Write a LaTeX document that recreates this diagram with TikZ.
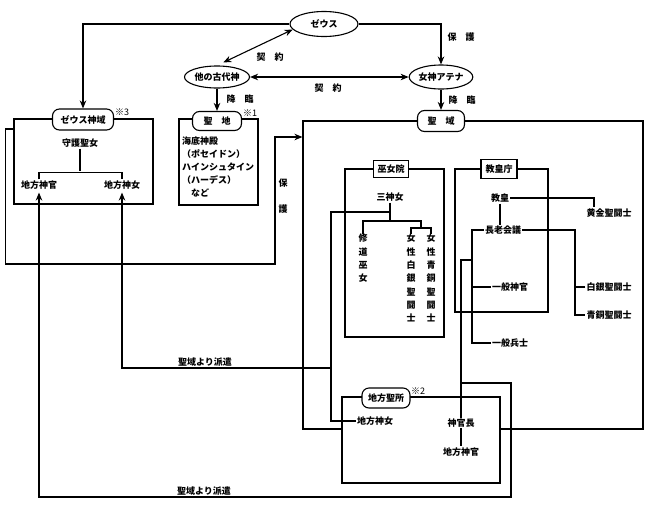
\documentclass[tikz,border=0pt]{standalone}
\usepackage{fontspec}
\setmainfont{Noto Sans CJK JP}
\usetikzlibrary{shapes.geometric,arrows.meta}
\tikzset{
  every node/.style={font=\bfseries\fontsize{9}{11}\selectfont, inner sep=1pt},
  ln/.style={line width=1.1pt},
  arr/.style={ln, -{Stealth[length=8pt,width=6.5pt,inset=2.5pt]}},
  dbl/.style={ln, {Stealth[length=8pt,width=6.5pt,inset=2.5pt]}-{Stealth[length=8pt,width=6.5pt,inset=2.5pt]}},
  god/.style={draw, ellipse, ln, inner sep=0pt, fill=white},
  area/.style={draw, ln, rectangle, rounded corners=7pt, inner sep=0pt, fill=white},
  tag/.style={draw, ln, rectangle, inner sep=0pt, fill=white},
  box/.style={draw, ln, rectangle, inner sep=0pt},
  vtxt/.style={anchor=north, align=center, inner sep=0pt, font=\bfseries\fontsize{9}{13.3}\selectfont},
  note/.style={font=\fontsize{9}{10}\selectfont, inner sep=0pt},
}

\begin{document}
\begin{tikzpicture}[x=1pt, y=-1pt]
            \useasboundingbox (0,0) rectangle (650,509);

            \node[box, minimum width=340pt, minimum height=308pt] (sbox) at (473,275) {};
            \node[box, minimum width=139pt, minimum height=85pt] (zbox) at (83.5,161.5) {};
            \node[box, minimum width=79pt, minimum height=86pt] (hbox) at (218.5,162) {};
            \node[box, minimum width=99pt, minimum height=168pt] (mbox) at (394.5,253) {};
            \node[box, minimum width=93pt, minimum height=143pt] (kbox) at (501.5,240.5) {};
            \node[box, fill=white, minimum width=158pt, minimum height=86pt] (lbox) at (421,440) {};

            \node[god, minimum width=68pt, minimum height=25pt] (zeus) at (324,24) {ゼウス};
            \node[god, minimum width=65pt, minimum height=22pt] (other) at (217,77) {他の古代神};
            \node[god, minimum width=60pt, minimum height=24pt] (athena) at (441,77) {女神アテナ};

            \node[area, minimum width=61pt, minimum height=21pt] (zlab) at (83,119.5) {ゼウス神域};
            \node[area, minimum width=49pt, minimum height=19pt] (hlab) at (217,121) {聖\quad 地};
            \node[area, minimum width=47pt, minimum height=21pt] (slab) at (441,121) {聖\quad 域};
            \node[area, minimum width=48pt, minimum height=20pt] (llab) at (386,398) {地方聖所};
            \node[tag, minimum width=35pt, minimum height=17pt] (mlab) at (391,169) {巫女院};
            \node[tag, minimum width=36pt, minimum height=19pt] (klab) at (499,169) {教皇庁};

            \node[note] (n3) at (122,112) {※3};
            \node[note] (n1) at (250,113) {※1};
            \node[note] (n2) at (418,391) {※2};

            \node (shugo) at (80,143) {守護聖女};
            \node (zkan) at (39,185) {地方神官};
            \node (zjo) at (122,185) {地方神女};
            \node[anchor=north west, align=left, inner sep=0pt, font=\bfseries\fontsize{9}{12.8}\selectfont] (hlist) at (182,137) {海底神殿\\（ポセイドン）\\ハインシュタイン\\（ハーデス）\\\hspace{1em}など};

            \node (sanjo) at (390,197) {三神女};
            \node[vtxt] (shudo) at (363,234) {修\\道\\巫\\女};
            \node[vtxt] (jhaku) at (411,234) {女\\性\\白\\銀\\聖\\闘\\士};
            \node[vtxt] (jsei) at (431,234) {女\\性\\青\\銅\\聖\\闘\\士};

            \node (kyokou) at (500,198) {教皇};
            \node (choro) at (503,230) {長老会議};
            \node (shinkan) at (510,287) {一般神官};
            \node (heishi) at (510,343) {一般兵士};
            \node (ogon) at (609,213) {黄金聖闘士};
            \node (hakugin) at (609,287) {白銀聖闘士};
            \node (seido) at (609,315) {青銅聖闘士};

            \node (ljo) at (375,421) {地方神女};
            \node (kancho) at (461,423) {神官長};
            \node (lkan) at (461,452) {地方神官};

            \node (kei1) at (270,57) {契\quad 約};
            \node (kei2) at (328,88) {契\quad 約};
            \node (hogo1) at (461,37) {保\quad 護};
            \node (korin1) at (240,99) {降\quad 臨};
            \node (korin2) at (462,100) {降\quad 臨};
            \node[align=center, font=\bfseries\fontsize{9}{26}\selectfont] (hogo2) at (283,196) {保\\護};
            \node (haken1) at (205,362) {聖域より派遣};
            \node (haken2) at (204,491) {聖域より派遣};

            \coordinate (cl) at (472,230);
            \coordinate (cr) at (575,230);
            \coordinate (ml) at (331,212);

            \draw[arr] (zeus.west) -| (zlab.north);
            \draw[arr] (zeus.east) -| (athena.north);
            \draw[dbl, shorten <=7pt] (other.north) -- (zeus.190);
            \draw[dbl] (other.east) -- (athena.west);
            \draw[arr] (other.south) -- (hlab.north);
            \draw[arr] (athena.south) -- (slab.north);

            \draw[ln] (shugo.south) -- (shugo.south |- 0,171);
            \draw[ln] (zkan.north) -- ++(0,-7) -| (zjo.north);
            \draw[arr] (zbox.west |- 0,129) -- ++(-8,0) |- (275,264) |- (sbox.west |- 0,137);

            \draw[ln] (sanjo.south) -- (sanjo.south |- 0,221);
            \draw[ln] (shudo.north) |- (421,221) -- (421,228);
            \draw[ln] (jhaku.north) -- ++(0,-6) -| (jsei.north);
            \draw[ln] (sanjo.south |- ml) -- (ml) |- (ljo.west);
            \draw[arr, shorten >=2pt] (ml |- 0,368) -| (zjo.south);

            \draw[ln] (kyokou.east) -| ([xshift=-15pt]ogon.north);
            \draw[ln] (kyokou.south) -- (kyokou.south |- choro.north);
            \draw[ln] (choro.east) -- (cr) |- (seido.west);
            \draw[ln] (hakugin.west) -- (cr |- hakugin.west);
            \draw[ln] (choro.west) -- (cl) |- (heishi.west);
            \draw[ln] (shinkan.west) -- (cl |- shinkan.west);
            \draw[ln] (cl |- 0,260) -| (kancho.north);
            \draw[ln] (kancho.south) -- (lkan.north);
            \draw[arr, shorten >=2pt] (kancho.north |- 0,383) -- (511,383) |- (zkan.south |- 0,497) -- (zkan.south);
        \end{tikzpicture}
\end{document}
